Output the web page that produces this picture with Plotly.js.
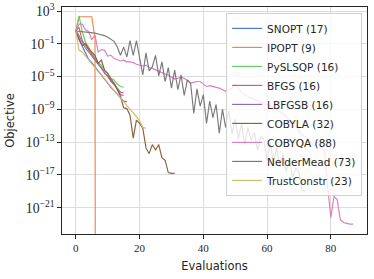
<!DOCTYPE html>
<html>
<head>
<meta charset="utf-8">
<script src="https://cdn.plot.ly/plotly-3.0.1.min.js"></script>
<style>html,body{margin:0;padding:0;background:#fff;}#chart{width:374px;height:279px;}</style>
</head>
<body>
<div id="chart"></div>
<script>
// log10(objective) per evaluation; -Infinity = objective reached exactly 0
var snoptLog10 = [0.56, -0.5, -1.3, -2.1, -2.9, -3.3, -3.8, -4.4, -4.9, -5.4, -5.8, -6.3, -6.7, -7.2, -7.6, -8.0, -8.06];
var ipoptLog10 = [0.56, 2.3, 2.3, 2.3, 2.3, 2.3, -0.4, -Infinity, -Infinity];
var pyslsqpLog10 = [0.56, 2.4, 0.5, -0.8, -1.4, -2.2, -2.6, -3.3, -3.6, -4.3, -4.6, -5.2, -5.4, -5.9, -6.2, -6.3];
var bfgsLog10 = [0.56, 1.0, -0.6, -1.2, -1.8, -2.3, -2.9, -3.4, -3.9, -4.6, -4.9, -5.6, -5.9, -6.5, -7.2, -7.3];
var lbfgsbLog10 = [0.56, 0.0, -0.8, -1.5, -2.0, -2.5, -3.0, -3.6, -4.0, -4.5, -5.1, -5.5, -6.0, -6.4, -6.9, -7.0];
var cobylaLog10 = [0.56, -0.5, -1.2, -1.0, -1.6, -2.0, -2.4, -3.4, -3.0, -4.2, -4.6, -5.3, -5.8, -6.6, -7.4, -8.8, -8.9,
  -9.7, -12.5, -10.3, -10.7, -11.3, -13.7, -14.4, -13.3, -13.95, -13.3, -14.9, -15.2, -16.7, -16.8, -16.8];
var cobyqaLog10 = [0.56, 1.4, 1.4, 0.7, 0.5, -0.5, 0.1, -2.0, -1.7, -1.8, -2.5, -2.4, -2.8, -3.0, -3.1, -3.0, -3.2, -3.2, -3.3, -3.5,
  -3.6, -3.7, -3.6, -3.9, -4.0, -4.2, -4.3, -4.6, -4.7, -4.8, -5.0, -5.3, -5.2, -5.1, -5.2, -5.5, -5.8, -5.7, -5.6, -5.6,
  -5.9, -6.2, -6.1, -6.2, -6.3, -6.4, -6.6, -6.8, -6.6, -6.4, -5.9, -6.5, -6.9, -7.2, -7.5, -7.6, -7.8, -7.9, -8.1, -8.3,
  -8.4, -8.6, -8.8, -9.0, -9.3, -9.5, -9.9, -10.3, -10.5, -10.9, -11.7, -12.1, -12.3, -12.7, -13.0, -13.5, -12.9, -13.6, -14.2, -18.4,
  -22.2, -19.6, -20.0, -22.5, -22.8, -22.9, -23.0, -23.0];
var neldermeadLog10 = [0.56, 0.52, 0.48, 0.45, 0.42, 0.38, 0.3, 0.2, 0.1, 0.0, -0.2, -0.4, -0.7, -1.4, -2.4, -1.4, -2.6, -0.6, -2.4, -0.6,
  -2.8, -4.8, -2.1, -4.3, -3.8, -2.4, -4.9, -3.2, -5.6, -3.9, -6.4, -4.2, -6.6, -4.8, -7.3, -5.4, -5.8, -9.5, -6.5, -8.6,
  -7.2, -10.7, -8.0, -10.0, -8.4, -11.9, -9.0, -11.2, -9.2, -12.0, -10.2, -12.6, -10.8, -13.3, -11.2, -12.8, -11.8, -14.0, -12.3, -12.7,
  -15.2, -13.0, -15.6, -13.6, -16.0, -14.4, -16.6, -15.2, -17.3, -16.2, -16.6, -18.9, -18.9];
var trustconstrLog10 = [0.56, -1.8, -2.0, -2.5, -3.0, -3.4, -3.9, -4.4, -4.8, -5.3, -5.7, -6.2, -6.7, -7.1, -7.6, -8.0, -8.5, -9.0, -9.4, -9.9,
  -10.4, -11.2, -11.3];

var names = ["SNOPT (17)", "IPOPT (9)", "PySLSQP (16)", "BFGS (16)", "LBFGSB (16)", "COBYLA (32)", "COBYQA (88)", "NelderMead (73)", "TrustConstr (23)"];
var series = [snoptLog10, ipoptLog10, pyslsqpLog10, bfgsLog10, lbfgsbLog10, cobylaLog10, cobyqaLog10, neldermeadLog10, trustconstrLog10];
var colors = ["#4878d0", "#ee854a", "#6acc64", "#d65f5f", "#956cb4", "#8c613c", "#dc7ec0", "#797979", "#d5bb67"];
var xTicks = [0, 20, 40, 60, 80];

function toValue(e) {
  // non-positive values clipped to a tiny number (like matplotlib's log clip)
  return e === -Infinity ? 1e-300 : Math.pow(10, e);
}

var traces = series.map(function (s, k) {
  return {
    type: "scatter", mode: "lines", name: names[k],
    x: s.map(function (_, i) { return i; }),
    y: s.map(toValue),
    line: { color: colors[k], width: 1.15 }
  };
});

var axisCommon = {
  showline: true, mirror: true, linecolor: "#262626", linewidth: 1.25,
  showgrid: true, gridcolor: "#dcdcdc", gridwidth: 1, zeroline: false,
  ticks: "outside", ticklen: 4, tickwidth: 1, tickcolor: "#262626",
  tickfont: { family: "Liberation Serif, DejaVu Serif, serif", size: 11, color: "#262626" }
};

var layout = {
  width: 374, height: 279,
  margin: { l: 62, r: 7, t: 7, b: 45 },
  paper_bgcolor: "#ffffff", plot_bgcolor: "#ffffff",
  showlegend: true,
  legend: {
    x: 0.984, y: 0.974, xanchor: "right", yanchor: "top",
    bgcolor: "rgba(255,255,255,0.8)", bordercolor: "#d0d0d0", borderwidth: 1,
    font: { family: "DejaVu Sans, sans-serif", size: 10.5, color: "#262626" },
    tracegroupgap: 0
  },
  xaxis: Object.assign({}, axisCommon, {
    range: [-4.35, 91.35], tickvals: xTicks,
    title: { text: "Evaluations", font: { family: "DejaVu Sans, sans-serif", size: 11.5, color: "#262626" }, standoff: 8 }
  }),
  yaxis: Object.assign({}, axisCommon, {
    type: "log", range: [-24.2, 3.49], tick0: 3, dtick: 4, exponentformat: "power",
    title: { text: "Objective", font: { family: "DejaVu Sans, sans-serif", size: 11.5, color: "#262626" }, standoff: 8 }
  })
};

Plotly.newPlot("chart", traces, layout, { displayModeBar: false, staticPlot: true });
</script>
</body>
</html>
